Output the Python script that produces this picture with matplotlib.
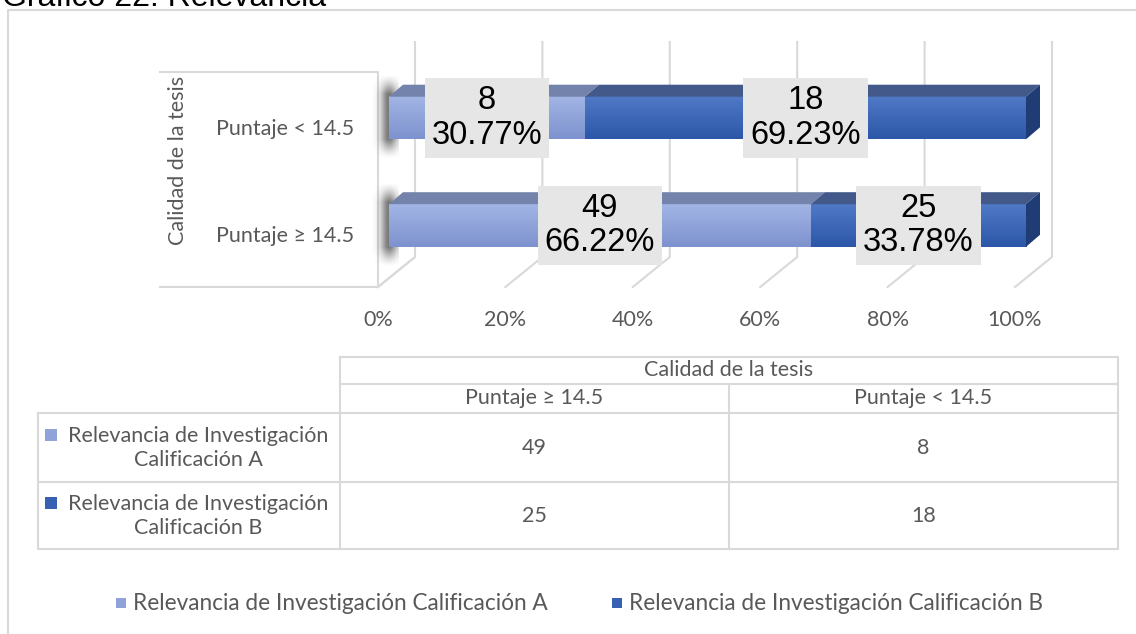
import numpy as np
import matplotlib.pyplot as plt
from matplotlib.colors import to_rgb
from matplotlib.patches import Polygon, Rectangle

# =========================
# Data
# =========================
categories = ['Puntaje ≥ 14.5', 'Puntaje < 14.5']
calif_a = [49, 8]
calif_b = [25, 18]
series_names = ['Relevancia de Investigación Calificación A',
                'Relevancia de Investigación Calificación B']
row_labels = ['Relevancia de Investigación\nCalificación A',
              'Relevancia de Investigación\nCalificación B']
axis_title = 'Calidad de la tesis'
ticks = [0, 20, 40, 60, 80, 100]
title = 'Gráfico 22: Relevancia'

# =========================
# Styles
# =========================
W, H = 1136, 634
GRID = '#D9D9D9'
TXT = '#595959'
LIGHT_TOP, LIGHT_BOT, LIGHT_CAP = '#A3B5E5', '#7D92CE', '#7483AB'
DARK_TOP, DARK_BOT, DARK_CAP, DARK_SIDE = '#5079C6', '#2C57A8', '#42598A', '#203C74'
LIGHT_KEY, DARK_KEY = '#8FA3DA', '#3760B3'
SANS = 'Lato'
ARIAL = 'Liberation Sans'
FS = 15.5

fig = plt.figure(figsize=(W / 100, H / 100), dpi=100)

# background layer in pixel coordinates (frame, walls, table, legend)
bg = fig.add_axes([0, 0, 1, 1])
bg.set_xlim(0, W)
bg.set_ylim(H, 0)
bg.axis('off')

bg.text(2, 6, title, fontsize=23, family=ARIAL, color='black', va='baseline', ha='left')
bg.plot([8, 8, W + 5], [H + 5, 10, 10], color=GRID, lw=1.5)

# left wall of the 3D plot
bg.plot([160, 378, 378, 160], [72, 72, 287, 287], color=GRID, lw=1.5)
bg.plot([378, 415], [287, 257], color=GRID, lw=1.5)

# =========================
# Bar axes: x in percent, y in category index
# =========================
AX_L, AX_R, AX_T, AX_B = 389, 1026, 40, 290
ax = fig.add_axes([AX_L / W, (H - AX_B) / H, (AX_R - AX_L) / W, (AX_B - AX_T) / H])
ax.set_zorder(2)
ax.patch.set_alpha(0)
ax.axis('off')
UNIT_Y = 107.5  # px per category
y0 = -(AX_B - 225.5) / UNIT_Y
ax.set_xlim(0, 100)
ax.set_ylim(y0, y0 + (AX_B - AX_T) / UNIT_Y)
PX = 100 / (AX_R - AX_L)
PY = 1 / UNIT_Y

# gridlines on back wall + floor
back_dx, front_dx = 26 * PX, -11 * PX
floor_back = y0 + (AX_B - 257) * PY
floor_front = y0 + (AX_B - 287) * PY
wall_top = y0 + (AX_B - 42) * PY
for t in ticks:
    ax.plot([t + front_dx, t + back_dx, t + back_dx], [floor_front, floor_back, wall_top],
            color=GRID, lw=1.5, zorder=0, clip_on=False)
    ax.text(t + front_dx, y0 + (AX_B - 320) * PY, f'{t}%', fontsize=FS, family=SANS,
            color=TXT, ha='center', va='center', clip_on=False)

# category labels + axis title
for i, c in enumerate(categories):
    ax.text(-(AX_L - 285.5) * PX, i - 11 * PY, c, fontsize=FS, family=SANS, color=TXT,
            ha='center', va='center', clip_on=False)
ax.text(-(AX_L - 178) * PX, 0.5 + 11 * PY, axis_title, fontsize=FS, family=SANS, color=TXT,
        rotation=90, ha='center', va='center', clip_on=False)

half = 21.3 * PY
dx, dy = 14 * PX, 12 * PY
grad = np.linspace(0, 1, 64).reshape(-1, 1)


def gradient_rect(x0, x1, yb, yt, c_top, c_bot, z):
    ct = np.array(to_rgb(c_top))
    cb = np.array(to_rgb(c_bot))
    img = ct * (1 - grad[:, :, None]) + cb * grad[:, :, None]
    ax.imshow(img, extent=[x0, x1, yb, yt], origin='upper', aspect='auto',
              zorder=z, interpolation='bilinear', clip_on=False)


# soft shadows at the left ends
sx = np.linspace(-1, 1, 80)
sy = np.linspace(0, 1, 120)
xx, yy = np.meshgrid(sx, sy)
for i in range(len(categories)):
    top = i + half + dy + 10 * PY
    bot = i - half - 20 * PY
    prof_y = np.clip(np.sin(np.pi * yy) * 1.5, 0, 1) ** 1.5
    alpha = np.exp(-((xx - 0.3) / 0.6) ** 2) * prof_y * 0.6
    img = np.zeros((len(sy), len(sx), 4))
    img[..., :3] = 0.12
    img[..., 3] = alpha
    ax.imshow(img, extent=[-18 * PX, 10 * PX, bot, top], origin='lower', aspect='auto',
              zorder=1, interpolation='bilinear', clip_on=False)

for i in range(len(categories)):
    total = calif_a[i] + calif_b[i]
    pa = 100 * calif_a[i] / total
    pb = 100 * calif_b[i] / total
    yb, yt = i - half, i + half
    segs = [(0, pa, LIGHT_TOP, LIGHT_BOT, LIGHT_CAP),
            (pa, 100, DARK_TOP, DARK_BOT, DARK_CAP)]
    for x0, x1, ct, cb, cap in segs:
        gradient_rect(x0, x1, yb, yt, ct, cb, 3)
        ax.add_patch(Polygon([(x0, yt), (x1, yt), (x1 + dx, yt + dy), (x0 + dx, yt + dy)],
                             closed=True, facecolor=cap, edgecolor='none', zorder=3,
                             clip_on=False))
    ax.add_patch(Polygon([(100, yb), (100, yt), (100 + dx, yt + dy), (100 + dx, yb + dy)],
                         closed=True, facecolor=DARK_SIDE, edgecolor='none', zorder=3,
                         clip_on=False))
    # data labels
    for x0, x1, val, p in [(0, pa, calif_a[i], pa), (pa, 100, calif_b[i], pb)]:
        ax.text((x0 + x1) / 2, i, f'{val}\n{p:.2f}%', fontsize=23.5, family=ARIAL,
                color='black', ha='center', va='center', zorder=5, linespacing=1.15,
                clip_on=False,
                bbox=dict(boxstyle='square,pad=0.22', facecolor='#E6E6E6', edgecolor='none'))

# =========================
# Data table
# =========================
TL, TM, TR = 340, 729, 1118
LL = 38
ys = [357, 384, 413, 482, 549]
tk = dict(color=GRID, lw=1.5)
bg.plot([TL, TR, TR, TL, TL], [ys[0], ys[0], ys[-1], ys[-1], ys[0]], **tk)
bg.plot([TL, TR], [ys[1], ys[1]], **tk)
bg.plot([LL, TR], [ys[2], ys[2]], **tk)
bg.plot([LL, TR], [ys[3], ys[3]], **tk)
bg.plot([LL, LL, TL], [ys[2], ys[4], ys[4]], **tk)
bg.plot([TM, TM], [ys[1], ys[4]], **tk)

bg.text((TL + TR) / 2, (ys[0] + ys[1]) / 2, axis_title, fontsize=FS, family=SANS, color=TXT,
        ha='center', va='center')
col_x = [(TL + TM) / 2, (TM + TR) / 2]
for cx, c in zip(col_x, categories):
    bg.text(cx, (ys[1] + ys[2]) / 2, c, fontsize=FS, family=SANS, color=TXT,
            ha='center', va='center')
for r, (vals, lab, key) in enumerate(zip([calif_a, calif_b], row_labels, [LIGHT_KEY, DARK_KEY])):
    yc = (ys[2 + r] + ys[3 + r]) / 2
    for cx, v in zip(col_x, vals):
        bg.text(cx, yc, str(v), fontsize=FS, family=SANS, color=TXT, ha='center', va='center')
    bg.text(198.5, yc, lab, fontsize=FS, family=SANS, color=TXT, ha='center', va='center',
            multialignment='center', linespacing=1.25)
    bg.add_patch(Rectangle((45, yc - 19), 12, 12, facecolor=key, edgecolor='none'))

# =========================
# Legend
# =========================
for lx, name, key in zip([116, 612], series_names, [LIGHT_KEY, DARK_KEY]):
    bg.add_patch(Rectangle((lx, 598), 10, 10, facecolor=key, edgecolor='none'))
    bg.text(lx + 17, 603, name, fontsize=16.3, family=SANS, color=TXT, ha='left', va='center')

fig.savefig('out.png', dpi=100)
